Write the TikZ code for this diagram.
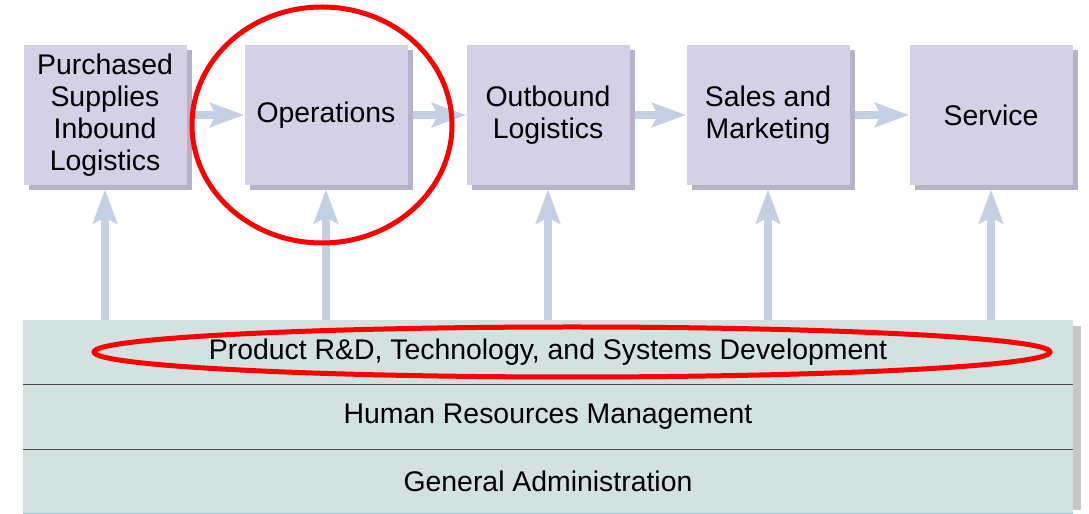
\documentclass[tikz,border=0pt]{standalone}
\usepackage{fontspec}
\setmainfont{Liberation Sans}
\usetikzlibrary{positioning}
\usetikzlibrary{arrows.meta}
\usetikzlibrary{shadows}
\definecolor{stagefill}{HTML}{D4D0E6}
\definecolor{stageshade}{HTML}{B7B2CB}
\definecolor{supportfill}{HTML}{D3E1E1}
\definecolor{flowblue}{HTML}{C3CFE2}
\tikzset{stagebox/.style={draw=none, fill=stagefill, minimum width=81.5pt, minimum height=70pt,
align=center, font=\fontsize{14.2}{16}\selectfont,
drop shadow={shadow xshift=2.5pt, shadow yshift=-2.5pt, fill=stageshade, opacity=1}},
supportrow/.style={fill=supportfill, minimum width=525pt, minimum height=32pt, inner sep=0pt,
font=\fontsize{14.2}{16}\selectfont},
flowarrow/.style={draw=flowblue, line width=4pt, -{Stealth[width=12pt, length=17pt, inset=3pt]}},
markring/.style={draw=red, line width=2.5pt}}

\begin{document}
\begin{tikzpicture}[x=0.5pt, y=0.5pt]
	\useasboundingbox (0,0) rectangle (1089,514);
	% value chain stages
	\node[stagebox] (purchased) at (105,399) {Purchased\\Supplies\\Inbound\\Logistics};
	\node[stagebox] (operations) at (326,399) {Operations};
	\node[stagebox] (outbound) at (548,399) {Outbound\\Logistics};
	\node[stagebox] (sales) at (768,399) {Sales and\\Marketing};
	\node[stagebox] (service) at (991,399) {Service};
	% support activities
	\fill[gray!45] (1073,4) rectangle (1081,188);
	\node[supportrow] (rd) at (548,162) {Product R\&D, Technology, and Systems Development};
	\node[supportrow, below=0pt of rd] (hr) {Human Resources Management};
	\node[supportrow, below=0pt of hr] (admin) {General Administration};
	\draw[black!70, line width=0.6pt] (rd.south west) -- (rd.south east);
	\draw[black!70, line width=0.6pt] (hr.south west) -- (hr.south east);
	\draw[teal!45, line width=1pt] (admin.south west) -- (admin.south east);
	% arrows
	\foreach \a/\b in {purchased/operations, operations/outbound, outbound/sales, sales/service}
		\draw[flowarrow] ([xshift=2.5pt]\a.east) -- (\b.west);
	\foreach \s in {purchased, operations, outbound, sales, service}
		\draw[flowarrow] (rd.north -| \s) -- ([yshift=-2pt]\s.south);
	% highlight rings
	\draw[markring] (322,389) ellipse (130 and 118);
	\draw[markring] (572,162) ellipse (478 and 25);
\end{tikzpicture}
\end{document}
